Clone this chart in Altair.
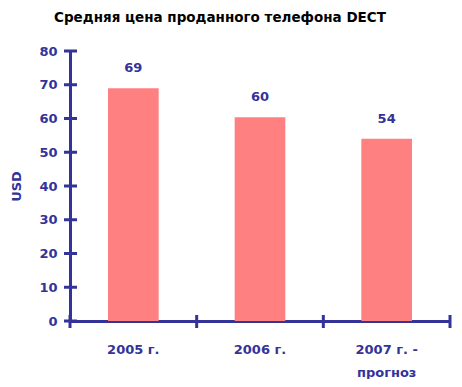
import altair as alt
import pandas as pd

categories = ["2005 г.", "2006 г.", "2007 г. - прогноз"]
prices = [69, 60.4, 54]
y_tick_values = [0, 10, 20, 30, 40, 50, 60, 70, 80]

BLUE = "#333399"
BAR = "#FF8080"
FONT = "DejaVu Sans"

df = pd.DataFrame({"cat": categories, "value": prices})
ticks_df = pd.DataFrame({"value": y_tick_values})
edges_df = pd.DataFrame({"cat": categories})
last_df = pd.DataFrame({"cat": categories[-1:]})

x_scale = alt.Scale(domain=categories, paddingInner=0, paddingOuter=0)
y_scale = alt.Scale(domain=[0, 80])

x_axis = alt.Axis(
    title=None, labelAngle=0, ticks=False, grid=False,
    domainColor=BLUE, domainWidth=3,
    labelColor=BLUE, labelFont=FONT, labelFontWeight="bold", labelFontSize=13,
    labelPadding=22, labelLineHeight=23,
    labelExpr="datum.value == '2007 г. - прогноз' ? ['2007 г. -', 'прогноз'] : datum.label",
)
y_axis = alt.Axis(
    title="USD", values=y_tick_values, tickCount=9, ticks=False, grid=False,
    labelOverlap=False,
    domainColor=BLUE, domainWidth=3,
    labelColor=BLUE, labelFont=FONT, labelFontWeight="bold", labelFontSize=13,
    labelPadding=13,
    titleColor=BLUE, titleFont=FONT, titleFontWeight="bold", titleFontSize=13,
    titleX=-54, titleY=135, titleAngle=-90, titleBaseline="middle", titleAlign="center",
)

X = lambda **kw: alt.X("cat:N", scale=x_scale, axis=x_axis, sort=categories, **kw)
Y = lambda: alt.Y("value:Q", scale=y_scale, axis=y_axis)

bars = alt.Chart(df).mark_bar(color=BAR, width=alt.RelativeBandSize(0.4)).encode(
    x=X(),
    y=Y(),
)

labels = alt.Chart(df).mark_text(
    dy=-20, color=BLUE, font=FONT, fontWeight="bold", fontSize=13, baseline="middle"
).encode(
    x=X(),
    y=Y(),
    text=alt.Text("value:Q", format=".0f"),
)

y_ticks = alt.Chart(ticks_df).mark_rule(color=BLUE, strokeWidth=3).encode(
    y=Y(),
    x=alt.value(-6),
    x2=alt.value(7),
)

x_ticks = alt.Chart(edges_df).mark_rule(color=BLUE, strokeWidth=3).encode(
    x=X(bandPosition=0),
    y=alt.value(264),
    y2=alt.value(277),
)

x_end_tick = alt.Chart(last_df).mark_rule(color=BLUE, strokeWidth=3).encode(
    x=X(bandPosition=1),
    y=alt.value(264),
    y2=alt.value(277),
)

chart = alt.layer(bars, labels, y_ticks, x_ticks, x_end_tick).properties(
    width=380,
    height=270,
    background="white",
    autosize=alt.AutoSizeParams(type="none"),
    padding={"left": 62, "top": 43, "right": 4, "bottom": 58},
    title=alt.TitleParams(
        "Средняя цена проданного телефона DECT",
        font=FONT, fontSize=13.5, fontWeight="bold", color="black",
        anchor="middle", dx=-40, offset=21,
    ),
).configure_view(stroke=None).configure_axisY(labelOverlap=False)

chart.save("out.html", embed_options={"renderer": "svg", "actions": False})
